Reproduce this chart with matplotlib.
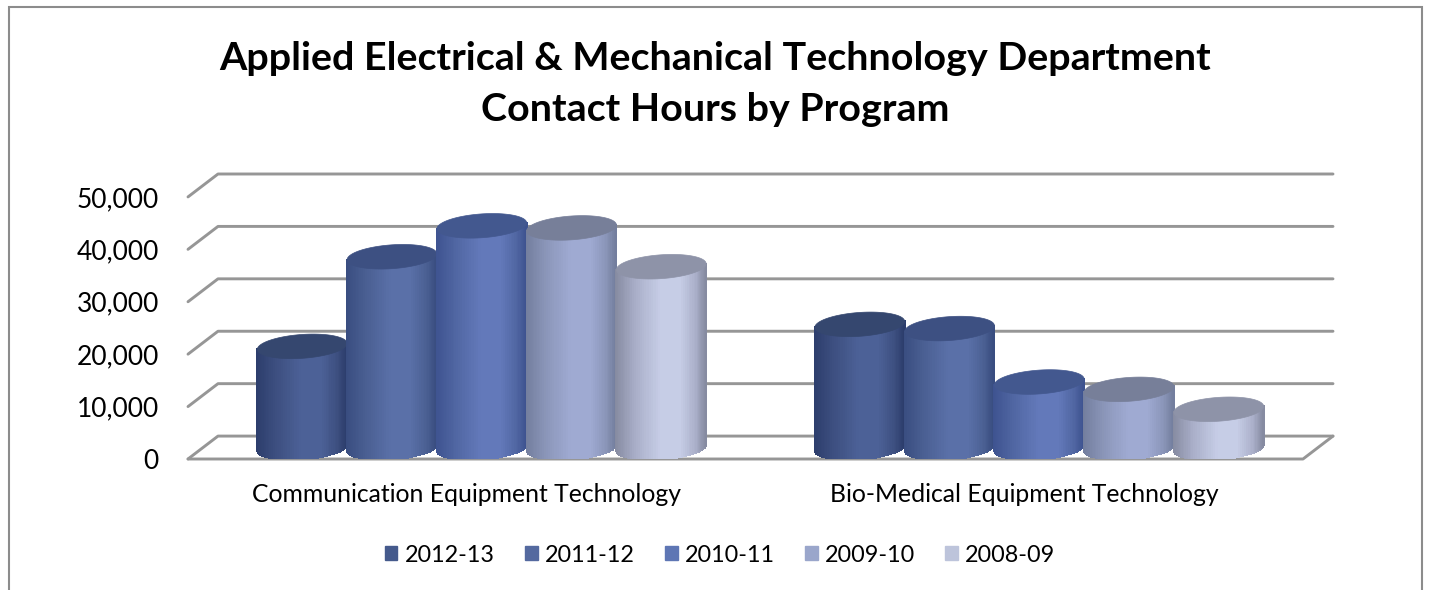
import numpy as np
import matplotlib
matplotlib.use('Agg')
import matplotlib.pyplot as plt
import matplotlib.patches as mpatches
from matplotlib.colors import LinearSegmentedColormap

plt.rcParams['font.family'] = ['Lato', 'DejaVu Sans']

programs = ['Communication Equipment Technology', 'Bio-Medical Equipment Technology']
years = ['2012-13', '2011-12', '2010-11', '2009-10', '2008-09']
hours_2012 = [19300, 23500]
hours_2011 = [36400, 22700]
hours_2010 = [42300, 12500]
hours_2009 = [41900, 11100]
hours_2008 = [34500, 7300]
all_hours = [hours_2012, hours_2011, hours_2010, hours_2009, hours_2008]
y_ticks = [0, 10000, 20000, 30000, 40000, 50000]

edge_colors = ['#2c3d6c', '#394d80', '#3e5390', '#737e9e', '#868ba1']
side_colors = ['#3d4f80', '#4a5f92', '#5066a2', '#8a95b8', '#a9aec8']
mid_colors = ['#4c6197', '#5a70a8', '#6379ba', '#9faad2', '#c6cde6']
top_colors = ['#35476f', '#3d5082', '#43588f', '#777f99', '#8e93a8']
legend_colors = ['#455a8c', '#54699f', '#5e76b4', '#9aa6cb', '#bdc4db']
line_color = '#969696'

# depth of the fake 3d box in data units
dx = 0.0538
dy = 4373
bar_w = 0.161

fig = plt.figure(figsize=(14.3, 5.9), dpi=100)
ax = fig.add_axes([188 / 1430, (590 - 459) / 590, (1333 - 188) / 1430, (459 - 174) / 590])
ax.set_xlim(-0.5 - dx / 2, 1.5 + dx / 2)
ax.set_ylim(-dy / 2, 50000 + dy / 2)
for spine in ax.spines.values():
    spine.set_visible(False)
ax.patch.set_visible(False)

# Walls
for v in y_ticks:
    ax.plot([-0.5 - dx / 2, -0.5 + dx / 2, 1.5 + dx / 2],
            [v - dy / 2, v + dy / 2, v + dy / 2],
            color=line_color, lw=2.1, clip_on=False, zorder=1, solid_capstyle='round')
ax.plot([-0.5 - dx / 2, 1.5 - dx / 2, 1.5 + dx / 2],
        [-dy / 2, -dy / 2, dy / 2],
        color=line_color, lw=2.1, clip_on=False, zorder=1, solid_capstyle='round')

# Cylinders, drawn left to right so each one sits over the last
t = np.linspace(np.pi, 2 * np.pi, 61)
z = 2
for p in range(len(programs)):
    for s in range(len(years)):
        value = all_hours[s][p]
        cx = p + (s - 2) * bar_w
        a = bar_w / 2
        b = dy * 0.52
        shear = dy * 0.13
        arc_x = cx + a * np.cos(t)
        arc_y = b * np.sin(t) + shear * np.cos(t)
        xs = np.vstack([arc_x, arc_x])
        ys = np.vstack([arc_y, arc_y + value])
        # shading runs dark at the edges with a wide light band right of centre
        pos = (arc_x[:-1] + arc_x[1:]) / 2
        frac = (pos - (cx - a)) / (2 * a)
        cmap = LinearSegmentedColormap.from_list(
            'c', [(0, edge_colors[s]), (0.22, side_colors[s]), (0.5, mid_colors[s]),
                  (0.72, mid_colors[s]), (0.9, side_colors[s]), (1, edge_colors[s])])
        ax.pcolormesh(xs, ys, frac.reshape(1, -1), cmap=cmap, vmin=0, vmax=1,
                      shading='flat', zorder=z, edgecolors='face', linewidth=0.3)
        full = np.linspace(0, 2 * np.pi, 121)
        top = mpatches.Polygon(
            np.column_stack([cx + a * np.cos(full),
                             value + b * np.sin(full) + shear * np.cos(full)]),
            closed=True, facecolor=top_colors[s], edgecolor=top_colors[s], lw=0.5, zorder=z + 0.5)
        ax.add_patch(top)
        z += 1

# Axis labels sit on the front plane of the box
ax.set_yticks([v - dy / 2 for v in y_ticks])
ax.set_yticklabels(['{:,}'.format(v) for v in y_ticks], fontsize=19)
ax.set_xticks([i - dx / 2 for i in range(len(programs))])
ax.set_xticklabels(programs, fontsize=17.8)
ax.tick_params(axis='y', length=0, pad=21)
ax.tick_params(axis='x', length=0, pad=17)

fig.text(715.5 / 1430, 1 - 58 / 590, 'Applied Electrical & Mechanical Technology Department',
         ha='center', va='center', fontsize=28.4, fontweight='bold')
fig.text(715.5 / 1430, 1 - 110 / 590, 'Contact Hours by Program',
         ha='center', va='center', fontsize=28.4, fontweight='bold')

handles = [mpatches.Patch(color=c, label=y) for c, y in zip(legend_colors, years)]
fig.legend(handles=handles, loc='center', bbox_to_anchor=(720 / 1430, 1 - 555 / 590), ncol=5,
           frameon=False, fontsize=16.8, handlelength=0.55, handleheight=0.55,
           handletextpad=0.3, columnspacing=1.3)

# Chart frame, its bottom edge is cut off by the picture
frame = mpatches.Rectangle((9 / 1430, -0.1), (1422 - 9) / 1430, 1.1 - 7 / 590,
                           transform=fig.transFigure, fill=False, edgecolor='#8c8c8c', lw=1.5)
fig.add_artist(frame)

fig.savefig('out.png', dpi=100)
